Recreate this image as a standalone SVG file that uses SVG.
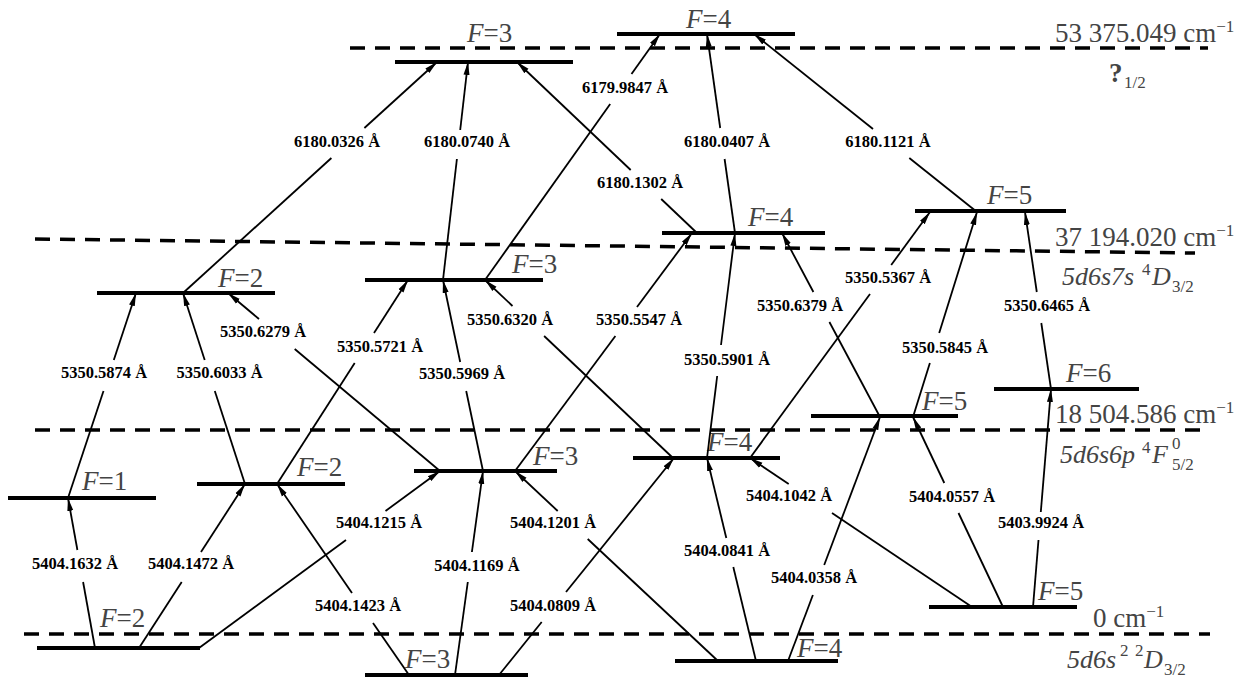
<svg xmlns="http://www.w3.org/2000/svg" width="1239" height="679" viewBox="0 0 1239 679">
<style>
.lvl{stroke:#000;stroke-width:4;fill:none}
.ref{stroke:#000;stroke-width:3.5;stroke-dasharray:15 10;fill:none}
.tr{stroke:#000;stroke-width:1.8;fill:none}
.ar{marker-end:url(#ah)}
.fl{font-family:"Liberation Serif","Times New Roman",serif;font-size:27px;fill:#444}
.el{font-family:"Liberation Serif","Times New Roman",serif;font-size:27px;fill:#444}
.tl{font-size:26px}
.sm{font-size:17px}
.wl{font-family:"Liberation Serif","Times New Roman",serif;font-size:16.5px;font-weight:bold;fill:#000;text-anchor:middle}
.it{font-style:italic}
</style>
<defs>
<marker id="ah" markerWidth="13" markerHeight="8" refX="13" refY="4" orient="auto" markerUnits="userSpaceOnUse"><path d="M0,1 L13,4 L0,7 z" fill="#000"/></marker>
</defs>

<g id="reference-levels">
<line class="ref" x1="350" y1="48" x2="1208" y2="48"/>
<line class="ref" x1="35" y1="239" x2="1195" y2="253"/>
<line class="ref" x1="35" y1="430" x2="1205" y2="430"/>
<line class="ref" x1="24" y1="634" x2="1210" y2="634"/>
<text class="el" x="1055" y="42">53 375.049 cm<tspan class="sm" dy="-10">−1</tspan></text>
<text class="el" x="1109" y="82" font-weight="bold">?</text>
<text class="el sm" x="1124" y="88">1/2</text>
<text class="el" x="1055" y="246">37 194.020 cm<tspan class="sm" dy="-10">−1</tspan></text>
<text class="el tl it" x="1062" y="285">5d6s7s</text>
<text class="el sm" x="1142" y="275">4</text>
<text class="el tl it" x="1152" y="285">D</text>
<text class="el sm" x="1172" y="292">3/2</text>
<text class="el" x="1055" y="423">18 504.586 cm<tspan class="sm" dy="-10">−1</tspan></text>
<text class="el tl it" x="1060" y="463">5d6s6p</text>
<text class="el sm" x="1142" y="453">4</text>
<text class="el tl it" x="1152" y="463">F</text>
<text class="el sm" x="1172" y="449">0</text>
<text class="el sm" x="1172" y="470">5/2</text>
<text class="el" x="1093" y="627">0 cm<tspan class="sm" dy="-10">−1</tspan></text>
<text class="el tl it" x="1067" y="668">5d6s</text>
<text class="el sm" x="1120" y="656">2</text>
<text class="el sm" x="1135" y="656">2</text>
<text class="el tl it" x="1144" y="668">D</text>
<text class="el sm" x="1164" y="675">3/2</text>
</g>

<g id="top-F3"><line class="lvl" x1="395" y1="62" x2="573" y2="62"/><text class="fl" x="467" y="42"><tspan class="it">F</tspan>=3</text></g>
<g id="top-F4"><line class="lvl" x1="617" y1="34" x2="795" y2="34"/><text class="fl" x="686" y="28"><tspan class="it">F</tspan>=4</text></g>

<g id="mid-F2"><line class="lvl" x1="97" y1="293" x2="275" y2="293"/><text class="fl" x="218" y="287"><tspan class="it">F</tspan>=2</text></g>
<g id="mid-F3"><line class="lvl" x1="365" y1="280" x2="543" y2="280"/><text class="fl" x="512" y="273"><tspan class="it">F</tspan>=3</text></g>
<g id="mid-F4"><line class="lvl" x1="662" y1="233" x2="825" y2="233"/><text class="fl" x="748" y="226"><tspan class="it">F</tspan>=4</text></g>
<g id="mid-F5"><line class="lvl" x1="915" y1="211" x2="1066" y2="211"/><text class="fl" x="987" y="204"><tspan class="it">F</tspan>=5</text></g>

<g id="low-F1"><line class="lvl" x1="8" y1="498" x2="156" y2="498"/><text class="fl" x="82" y="490"><tspan class="it">F</tspan>=1</text></g>
<g id="low-F2"><line class="lvl" x1="197" y1="484" x2="345" y2="484"/><text class="fl" x="297" y="476"><tspan class="it">F</tspan>=2</text></g>
<g id="low-F3"><line class="lvl" x1="414" y1="471" x2="557" y2="471"/><text class="fl" x="533" y="465"><tspan class="it">F</tspan>=3</text></g>
<g id="low-F4"><line class="lvl" x1="633" y1="458" x2="780" y2="458"/><text class="fl" x="707" y="451"><tspan class="it">F</tspan>=4</text></g>
<g id="low-F5"><line class="lvl" x1="811" y1="416" x2="958" y2="416"/><text class="fl" x="922" y="410"><tspan class="it">F</tspan>=5</text></g>
<g id="low-F6"><line class="lvl" x1="994" y1="389" x2="1139" y2="389"/><text class="fl" x="1066" y="382"><tspan class="it">F</tspan>=6</text></g>

<g id="gnd-F2"><line class="lvl" x1="37" y1="648" x2="200" y2="648"/><text class="fl" x="100" y="627"><tspan class="it">F</tspan>=2</text></g>
<g id="gnd-F3"><line class="lvl" x1="365" y1="675" x2="528" y2="675"/><text class="fl" x="405" y="668"><tspan class="it">F</tspan>=3</text></g>
<g id="gnd-F4"><line class="lvl" x1="675" y1="661" x2="838" y2="661"/><text class="fl" x="797" y="657"><tspan class="it">F</tspan>=4</text></g>
<g id="gnd-F5"><line class="lvl" x1="929" y1="607" x2="1077" y2="607"/><text class="fl" x="1038" y="600"><tspan class="it">F</tspan>=5</text></g>

<g id="connectors">
<path class="tr" d="M95,648 L83.1,582"/><path class="tr ar" d="M77.4,550 L68,498"/>
<path class="tr" d="M139,648 L181.7,582"/><path class="tr ar" d="M201,552 L245,484"/>
<path class="tr" d="M199,648 L346,540"/><path class="tr ar" d="M385.5,511 L440,471"/>
<path class="tr" d="M409,675 L373,623"/><path class="tr ar" d="M352,593 L277,484"/>
<path class="tr" d="M455,675 L467.8,582"/><path class="tr ar" d="M471.9,552 L483,471"/>
<path class="tr" d="M718,661 L587.7,539"/><path class="tr ar" d="M557.7,511 L515,471"/>
<path class="tr" d="M499,675 L541.7,622"/><path class="tr ar" d="M566,592 L674,458"/>
<path class="tr" d="M972,607 L832,513"/><path class="tr ar" d="M788.7,484 L750,458"/>
<path class="tr" d="M756,661 L733.3,567"/><path class="tr ar" d="M726.3,538 L707,458"/>
<path class="tr" d="M788,661 L812.9,595"/><path class="tr ar" d="M824.2,565 L880,417"/>
<path class="tr" d="M1003,607 L958.5,513"/><path class="tr ar" d="M944.3,483 L913,417"/>
<path class="tr" d="M1033,607 L1038.5,540"/><path class="tr ar" d="M1040.8,512 L1051,389"/>
<path class="tr" d="M68,498 L103.5,391"/><path class="tr ar" d="M113.8,360 L136,293"/>
<path class="tr" d="M245,484 L214.8,391"/><path class="tr ar" d="M204.7,360 L183,293"/>
<path class="tr" d="M440,471 L294.7,349"/><path class="tr ar" d="M259,319 L228,293"/>
<path class="tr" d="M277,484 L354.7,363"/><path class="tr ar" d="M374,333 L408,280"/>
<path class="tr" d="M483,471 L466.2,391"/><path class="tr ar" d="M460.2,362 L443,280"/>
<path class="tr" d="M673,458 L544.1,336"/><path class="tr ar" d="M512.5,306 L485,280"/>
<path class="tr" d="M515,471 L615.4,336"/><path class="tr ar" d="M637,307 L692,233"/>
<path class="tr" d="M707,458 L717.2,376"/><path class="tr ar" d="M721,345 L735,233"/>
<path class="tr" d="M880,417 L829.4,322"/><path class="tr ar" d="M813.4,292 L782,233"/>
<path class="tr" d="M750,458 L870,294"/><path class="tr ar" d="M891.2,265 L930,212"/>
<path class="tr" d="M913,417 L929.9,363"/><path class="tr ar" d="M939.2,333 L977,212"/>
<path class="tr" d="M1051,389 L1041.3,323"/><path class="tr ar" d="M1036.8,292 L1025,212"/>
<path class="tr" d="M183,293 L331.4,158"/><path class="tr ar" d="M364.4,128 L437,62"/>
<path class="tr" d="M443,280 L456.9,159"/><path class="tr ar" d="M460.2,130 L468,62"/>
<path class="tr" d="M485,280 L610.2,104"/><path class="tr ar" d="M631.5,74 L660,34"/>
<path class="tr" d="M697,233 L661.2,199"/><path class="tr ar" d="M630.7,170 L517,62"/>
<path class="tr" d="M735,233 L724.6,159"/><path class="tr ar" d="M720.2,128 L707,34"/>
<path class="tr" d="M977,212 L909.3,158"/><path class="tr ar" d="M873,129 L754,34"/>
</g>

<g id="connector-labels">
<text class="wl" x="75" y="569">5404.1632 Å</text>
<text class="wl" x="191" y="569">5404.1472 Å</text>
<text class="wl" x="379" y="528">5404.1215 Å</text>
<text class="wl" x="358" y="611">5404.1423 Å</text>
<text class="wl" x="477" y="571">5404.1169 Å</text>
<text class="wl" x="553" y="528">5404.1201 Å</text>
<text class="wl" x="553" y="611">5404.0809 Å</text>
<text class="wl" x="789" y="501">5404.1042 Å</text>
<text class="wl" x="727" y="556">5404.0841 Å</text>
<text class="wl" x="814" y="583">5404.0358 Å</text>
<text class="wl" x="952" y="502">5404.0557 Å</text>
<text class="wl" x="1041" y="528">5403.9924 Å</text>
<text class="wl" x="104" y="378">5350.5874 Å</text>
<text class="wl" x="219.5" y="378">5350.6033 Å</text>
<text class="wl" x="263" y="337">5350.6279 Å</text>
<text class="wl" x="380" y="352">5350.5721 Å</text>
<text class="wl" x="462" y="379">5350.5969 Å</text>
<text class="wl" x="510" y="325">5350.6320 Å</text>
<text class="wl" x="639" y="325">5350.5547 Å</text>
<text class="wl" x="727" y="365">5350.5901 Å</text>
<text class="wl" x="800" y="311">5350.6379 Å</text>
<text class="wl" x="888" y="283">5350.5367 Å</text>
<text class="wl" x="945" y="353">5350.5845 Å</text>
<text class="wl" x="1047" y="311">5350.6465 Å</text>
<text class="wl" x="337" y="147">6180.0326 Å</text>
<text class="wl" x="467" y="147">6180.0740 Å</text>
<text class="wl" x="625" y="93">6179.9847 Å</text>
<text class="wl" x="640" y="188">6180.1302 Å</text>
<text class="wl" x="727" y="147">6180.0407 Å</text>
<text class="wl" x="888" y="147">6180.1121 Å</text>
</g>
</svg>
